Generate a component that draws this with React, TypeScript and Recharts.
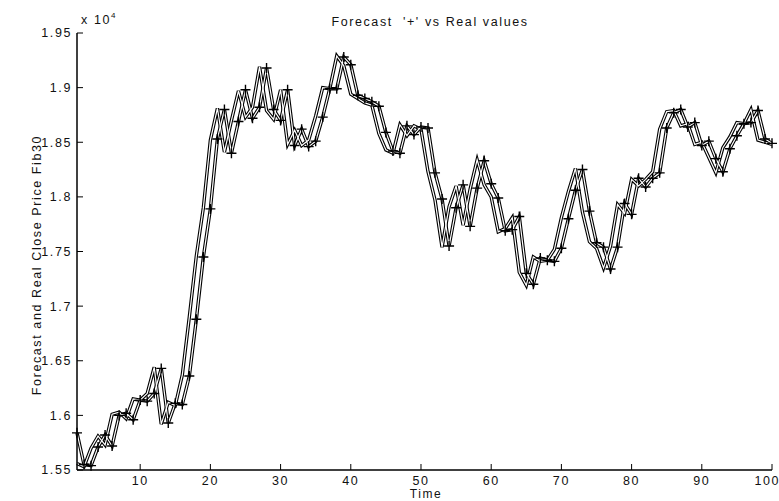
import React from 'react';
import { LineChart, Line, XAxis, YAxis } from 'recharts';

// close price (x 10^4), one value per time step
const realValues = [
  1.556, 1.553, 1.570, 1.581, 1.573, 1.601, 1.603, 1.597, 1.615, 1.614,
  1.620, 1.644, 1.592, 1.612, 1.609, 1.637, 1.690, 1.746, 1.790, 1.852,
  1.881, 1.841, 1.870, 1.897, 1.873, 1.882, 1.919, 1.879, 1.871, 1.898,
  1.848, 1.861, 1.847, 1.852, 1.874, 1.900, 1.899, 1.929, 1.920, 1.894,
  1.890, 1.886, 1.884, 1.858, 1.843, 1.840, 1.866, 1.856, 1.865, 1.862,
  1.823, 1.797, 1.754, 1.791, 1.810, 1.774, 1.807, 1.834, 1.811, 1.800,
  1.768, 1.771, 1.781, 1.731, 1.719, 1.745, 1.741, 1.742, 1.752, 1.781,
  1.805, 1.826, 1.786, 1.759, 1.753, 1.735, 1.755, 1.793, 1.785, 1.816,
  1.810, 1.816, 1.823, 1.862, 1.878, 1.879, 1.865, 1.867, 1.848, 1.850,
  1.836, 1.822, 1.845, 1.855, 1.868, 1.867, 1.880, 1.852, 1.850, 1.848,
];

const forecastValues = [
  1.584, 1.555, 1.554, 1.571, 1.582, 1.572, 1.600, 1.602, 1.596, 1.614,
  1.613, 1.620, 1.643, 1.593, 1.611, 1.610, 1.636, 1.688, 1.745, 1.789,
  1.853, 1.880, 1.840, 1.869, 1.898, 1.872, 1.882, 1.918, 1.880, 1.870,
  1.898, 1.847, 1.862, 1.846, 1.851, 1.873, 1.899, 1.899, 1.928, 1.921,
  1.893, 1.890, 1.887, 1.883, 1.859, 1.842, 1.840, 1.865, 1.857, 1.864,
  1.863, 1.822, 1.798, 1.755, 1.790, 1.811, 1.773, 1.808, 1.833, 1.812,
  1.799, 1.769, 1.770, 1.782, 1.730, 1.720, 1.744, 1.742, 1.741, 1.753,
  1.780, 1.806, 1.825, 1.787, 1.758, 1.754, 1.734, 1.754, 1.794, 1.784,
  1.817, 1.809, 1.817, 1.822, 1.863, 1.877, 1.880, 1.864, 1.868, 1.847,
  1.851, 1.835, 1.823, 1.844, 1.856, 1.867, 1.868, 1.879, 1.853, 1.849,
];

const xTicks = [10, 20, 30, 40, 50, 60, 70, 80, 90, 100];
const yTicks = [1.55, 1.6, 1.65, 1.7, 1.75, 1.8, 1.85, 1.9, 1.95];

const data = realValues.map((real, i) => ({
  t: i + 1,
  real,
  forecast: forecastValues[i],
}));

const FONT = '"Liberation Sans", Arial, Helvetica, sans-serif';
const tickStyle = { fontSize: 12.5, fill: '#111', fontFamily: FONT, letterSpacing: 1.6 };
const frame = { stroke: '#000', strokeWidth: 1.5 };

const Plus = (props: any) => {
  const { cx, cy, index } = props;
  if (cx == null || cy == null) return <g key={index} />;
  return (
    <path
      key={index}
      d={`M${cx - 5},${cy}h10M${cx},${cy - 5}v10`}
      stroke="#000"
      strokeWidth={1.4}
      fill="none"
    />
  );
};

const NoLabel = () => <g />;

const textBase: React.CSSProperties = {
  position: 'absolute',
  fontFamily: FONT,
  fontSize: 12.5,
  letterSpacing: 1.6,
  color: '#111',
  lineHeight: '14px',
  whiteSpace: 'nowrap',
};

export default function App() {
  return (
    <div style={{ position: 'absolute', left: 0, top: 0, width: 779, height: 501, background: '#fff' }}>
      <LineChart
        width={779}
        height={501}
        data={data}
        margin={{ top: 33, right: 7, bottom: 0, left: 0 }}
      >
        <XAxis
          dataKey="t"
          type="number"
          domain={[1, 100]}
          ticks={xTicks}
          height={31}
          tickSize={-6}
          tickMargin={12}
          axisLine={frame}
          tickLine={{ stroke: '#000' }}
          tick={tickStyle}
        />
        <XAxis
          xAxisId="top"
          orientation="top"
          dataKey="t"
          type="number"
          domain={[1, 100]}
          ticks={xTicks}
          height={0}
          tickSize={-6}
          axisLine={frame}
          tickLine={{ stroke: '#000' }}
          tick={NoLabel}
        />
        <YAxis
          type="number"
          domain={[1.55, 1.95]}
          ticks={yTicks}
          width={77}
          tickSize={-6}
          tickMargin={11}
          axisLine={frame}
          tickLine={{ stroke: '#000' }}
          tick={tickStyle}
          tickFormatter={(v: number) => String(+v.toFixed(2))}
        />
        <YAxis
          yAxisId="right"
          orientation="right"
          type="number"
          domain={[1.55, 1.95]}
          ticks={yTicks}
          width={0}
          tickSize={-6}
          axisLine={frame}
          tickLine={{ stroke: '#000' }}
          tick={NoLabel}
        />
        <Line dataKey="real" stroke="#000" strokeWidth={3.4} dot={false} isAnimationActive={false} />
        <Line dataKey="forecast" stroke="#000" strokeWidth={3.4} dot={false} isAnimationActive={false} />
        <Line dataKey="real" stroke="#fff" strokeWidth={1.2} dot={false} isAnimationActive={false} />
        <Line
          dataKey="forecast"
          stroke="#fff"
          strokeWidth={1.2}
          dot={Plus}
          isAnimationActive={false}
        />
      </LineChart>
      <div style={{ ...textBase, left: 330, top: 15, width: 200, textAlign: 'center' }}>
        Forecast&nbsp; '+' vs Real values
      </div>
      <div style={{ ...textBase, left: 81, top: 13 }}>
        x 10<sup style={{ fontSize: 8, verticalAlign: 'top', position: 'relative', top: -4 }}>4</sup>
      </div>
      <div
        style={{
          ...textBase,
          left: 37 - 150,
          top: 258,
          width: 300,
          textAlign: 'center',
          transform: 'rotate(-90deg)',
        }}
      >
        Forecast and Real Close Price Fib30
      </div>
      <div
        style={{ ...textBase, fontSize: 12, lineHeight: '12px', left: 376, top: 488, width: 100, textAlign: 'center' }}
      >
        Time
      </div>
    </div>
  );
}
